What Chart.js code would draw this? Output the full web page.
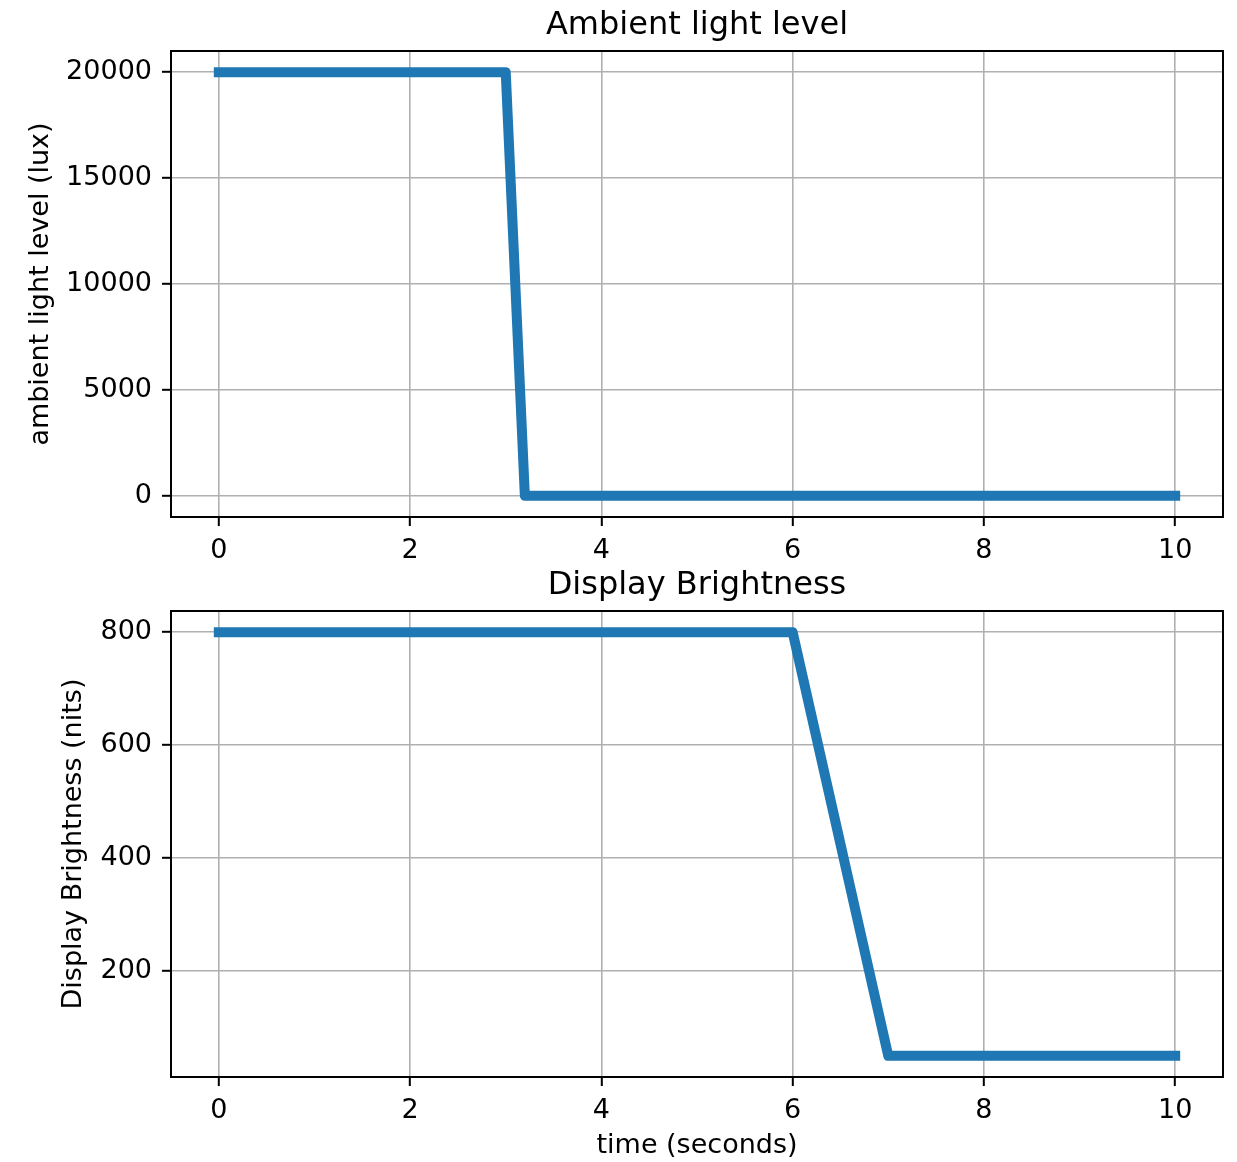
<!DOCTYPE html>
<html>
<head>
<meta charset="utf-8">
<script src="https://cdn.jsdelivr.net/npm/chart.js@4.4.1/dist/chart.umd.min.js"></script>
<style>
  body { margin: 0; background: #fff; }
  canvas { display: block; }
</style>
</head>
<body>
<canvas id="lux-chart" width="1237" height="560"></canvas>
<canvas id="nits-chart" width="1237" height="602"></canvas>
<script>
// data
const luxTime = [0, 3, 3.2, 10];
const luxValues = [20000, 20000, 0, 0];
const nitsTime = [0, 6, 7, 10];
const nitsValues = [800, 800, 50, 50];

const timeTicks = [0, 2, 4, 6, 8, 10];
const luxTicks = [0, 5000, 10000, 15000, 20000];
const nitsTicks = [200, 400, 600, 800];

const FONT = "'DejaVu Sans', sans-serif";
const BLUE = "#1f77b4";

// matplotlib style 5% margins
function padRange(values) {
  const lo = Math.min(...values), hi = Math.max(...values);
  const m = (hi - lo) * 0.05;
  return { min: lo - m, max: hi + m };
}

// black box round the plot area
const framePlugin = {
  id: "frame",
  afterDraw(chart) {
    const { ctx, chartArea: a } = chart;
    ctx.save();
    ctx.strokeStyle = "#000";
    ctx.lineWidth = 2;
    ctx.strokeRect(a.left, a.top, a.right - a.left, a.bottom - a.top);
    ctx.restore();
  }
};

function makeChart(id, opts) {
  const xr = padRange(opts.x);
  const yr = padRange(opts.y);
  const points = opts.x.map((x, i) => ({ x: x, y: opts.y[i] }));

  return new Chart(document.getElementById(id), {
    type: "line",
    data: {
      datasets: [{
        data: points,
        borderColor: BLUE,
        borderWidth: 10,
        borderCapStyle: "square",
        borderJoinStyle: "round",
        pointRadius: 0,
        tension: 0,
        fill: false
      }]
    },
    plugins: [framePlugin],
    options: {
      responsive: false,
      animation: false,
      layout: { padding: { left: 0, right: 14, top: 0, bottom: 0 } },
      plugins: {
        legend: { display: false },
        tooltip: { enabled: false },
        title: {
          display: true,
          text: opts.title,
          fullSize: false,
          color: "#000",
          font: { family: FONT, size: 32, weight: "normal" },
          padding: { top: 6, bottom: 6.6 }
        }
      },
      scales: {
        x: {
          type: "linear",
          min: xr.min,
          max: xr.max,
          afterBuildTicks: s => { s.ticks = timeTicks.map(v => ({ value: v })); },
          afterFit: s => { s.height = opts.xHeight; },
          ticks: { color: "#000", font: { family: FONT, size: 27 }, padding: 8.5, callback: v => String(v) },
          grid: { color: "#b0b0b0", lineWidth: 1.6, tickColor: "#000", tickLength: 9, tickWidth: 2 },
          border: { display: false },
          title: {
            display: !!opts.xLabel,
            text: opts.xLabel || "",
            color: "#000",
            font: { family: FONT, size: 27 },
            padding: { top: 0, bottom: 0 }
          }
        },
        y: {
          type: "linear",
          min: yr.min,
          max: yr.max,
          afterBuildTicks: s => { s.ticks = opts.yTicks.map(v => ({ value: v })); },
          afterFit: s => { s.width = 171; },
          ticks: { color: "#000", font: { family: FONT, size: 27 }, padding: 10, callback: v => String(v) },
          grid: { color: "#b0b0b0", lineWidth: 1.6, tickColor: "#000", tickLength: 9, tickWidth: 2 },
          border: { display: false },
          title: {
            display: true,
            text: opts.yLabel,
            color: "#000",
            font: { family: FONT, size: 27 },
            padding: { top: opts.yTitlePad, bottom: 0 }
          }
        }
      }
    }
  });
}

makeChart("lux-chart", {
  x: luxTime, y: luxValues, yTicks: luxTicks,
  title: "Ambient light level",
  yLabel: "ambient light level (lux)",
  yTitlePad: 24.8,
  xHeight: 43
});

makeChart("nits-chart", {
  x: nitsTime, y: nitsValues, yTicks: nitsTicks,
  title: "Display Brightness",
  yLabel: "Display Brightness (nits)",
  xLabel: "time (seconds)",
  yTitlePad: 57.8,
  xHeight: 85
});
</script>
</body>
</html>
